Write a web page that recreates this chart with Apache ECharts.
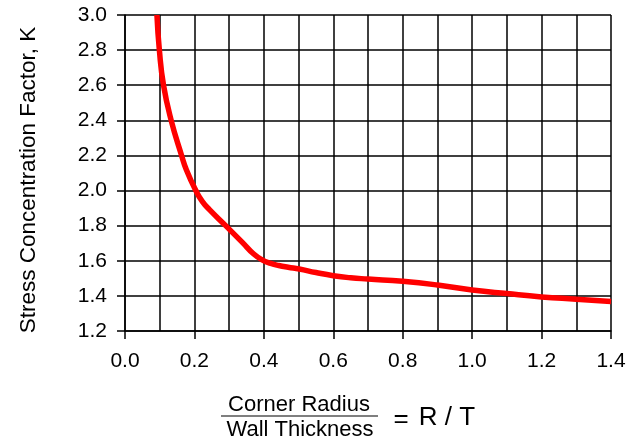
<!DOCTYPE html>
<html>
<head>
<meta charset="utf-8">
<script src="https://cdn.jsdelivr.net/npm/echarts@6/dist/echarts.min.js"></script>
<style>
html,body{margin:0;padding:0;background:#fff;}
#c{width:639px;height:442px;}
</style>
</head>
<body>
<div id="c"></div>
<script>
var ratioRT = [0.092, 0.099, 0.111, 0.133, 0.163, 0.177, 0.204, 0.223, 0.244, 0.290, 0.338, 0.370, 0.395, 0.420, 0.443, 0.470, 0.502, 0.550, 0.600, 0.650, 0.700, 0.800, 0.900, 1.000, 1.100, 1.200, 1.300, 1.400];
var factorK = [3.00, 2.80, 2.60, 2.40, 2.20, 2.117, 2.00, 1.937, 1.89, 1.80, 1.705, 1.640, 1.605, 1.585, 1.573, 1.563, 1.553, 1.533, 1.515, 1.503, 1.496, 1.483, 1.462, 1.434, 1.413, 1.394, 1.381, 1.368];
var xTicks = [0.0, 0.2, 0.4, 0.6, 0.8, 1.0, 1.2, 1.4];
var yTicks = [1.2, 1.4, 1.6, 1.8, 2.0, 2.2, 2.4, 2.6, 2.8, 3.0];
var yTitle = 'Stress Concentration Factor, K';
var xTitleTop = 'Corner Radius';
var xTitleBottom = 'Wall Thickness';
var xTitleRight = 'R / T';

var font = 'Liberation Sans, Arial, Helvetica, sans-serif';
var chart = echarts.init(document.getElementById('c'), null, {renderer: 'canvas'});
chart.setOption({
  animation: false,
  grid: {left: 125, top: 15, right: 28, bottom: 111, containLabel: false},
  xAxis: {
    type: 'value', min: xTicks[0], max: xTicks[xTicks.length - 1], interval: 0.2,
    axisLine: {show: true, onZero: false, lineStyle: {color: '#000', width: 1.5}},
    axisTick: {show: true, inside: false, length: 8, lineStyle: {color: '#000', width: 1.5}},
    axisLabel: {color: '#000', fontSize: 21, fontFamily: font, margin: 20,
      formatter: function (v) { return v.toFixed(1); }},
    splitLine: {show: true, lineStyle: {color: '#000', width: 1.5}},
    minorTick: {show: false, splitNumber: 2},
    minorSplitLine: {show: true, lineStyle: {color: '#000', width: 1.5}}
  },
  yAxis: {
    type: 'value', min: yTicks[0], max: yTicks[yTicks.length - 1], interval: 0.2,
    axisLine: {show: true, lineStyle: {color: '#000', width: 1.5}},
    axisTick: {show: true, inside: false, length: 8, lineStyle: {color: '#000', width: 1.5}},
    axisLabel: {color: '#000', fontSize: 21, fontFamily: font, margin: 18,
      formatter: function (v) { return v.toFixed(1); }},
    splitLine: {show: true, lineStyle: {color: '#000', width: 1.5}}
  },
  series: [{
    type: 'line',
    data: ratioRT.map(function (x, i) { return [x, factorK[i]]; }),
    smooth: 0.5,
    showSymbol: false,
    clip: true,
    lineStyle: {color: '#ff0000', width: 5.5, cap: 'butt', join: 'round'}
  }],
  graphic: [
    {type: 'text', x: 29, y: 180, rotation: Math.PI / 2,
      style: {text: yTitle, fontSize: 22.5, fontFamily: font, fill: '#000', align: 'center', verticalAlign: 'middle'}},
    {type: 'text', x: 299, y: 405, style: {text: xTitleTop, fontSize: 22, fontFamily: font, fill: '#000', align: 'center', verticalAlign: 'middle'}},
    {type: 'line', shape: {x1: 221, y1: 416, x2: 378, y2: 416}, style: {stroke: '#000', lineWidth: 1.2}},
    {type: 'text', x: 300, y: 430, style: {text: xTitleBottom, fontSize: 22, fontFamily: font, fill: '#000', align: 'center', verticalAlign: 'middle'}},
    {type: 'text', x: 401, y: 420, style: {text: '=', fontSize: 26, fontFamily: font, fill: '#000', align: 'center', verticalAlign: 'middle'}},
    {type: 'text', x: 447, y: 418, style: {text: xTitleRight, fontSize: 26, fontFamily: font, fill: '#000', align: 'center', verticalAlign: 'middle'}}
  ]
});
</script>
</body>
</html>
